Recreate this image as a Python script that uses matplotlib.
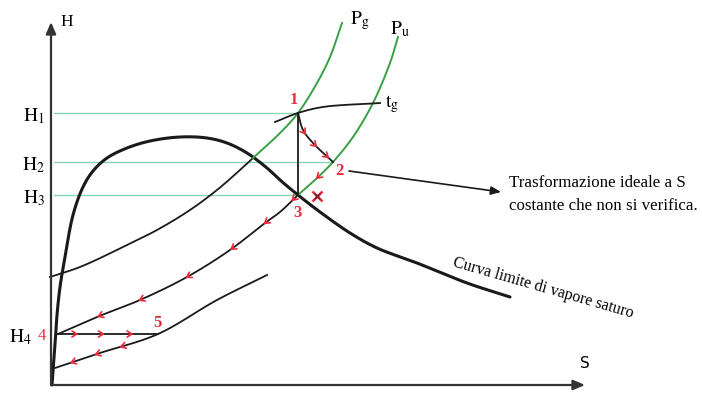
import numpy as np
import matplotlib
matplotlib.use("Agg")
import matplotlib.pyplot as plt

plt.rcParams["mathtext.fontset"] = "stix"
plt.rcParams["font.family"] = ["Liberation Serif", "DejaVu Serif"]

# ---- curve data (entropy S, enthalpy H), arbitrary units ----
dome_S = [1, 4, 6, 9, 14, 22, 32, 42, 56, 76, 99, 129, 156, 176, 196, 216, 229, 247, 269, 299, 326, 366, 416, 459]
dome_H = [0, 40, 70, 98, 128, 170, 198, 214, 227, 237, 244, 248, 247, 242, 232, 217, 205, 190, 173, 152, 137, 122, 102, 88]

pg_S = [-1, 29, 72, 106, 139, 166, 189, 202, 229, 247, 266, 279, 291]
pg_H = [108, 118, 138, 155, 175, 195, 215, 227, 252, 272, 302, 328, 362]
pg_green_from = 7          # index where the isobar leaves the wet region

pu_S = [7, 46, 89, 136, 179, 214, 229, 247, 264, 282, 302, 322, 339, 347]
pu_H = [51, 68, 85, 108, 135, 162, 173, 190, 205, 223, 248, 282, 322, 348]
pu_green_from = 7          # index of point 3

low_S = [4, 49, 107, 166, 216]
low_H = [17, 32, 51, 85, 110]

tg_S = [224, 247, 272, 329]
tg_H = [263, 272, 278, 282]

exp_S = [247, 252, 262, 282]       # real expansion 1 -> 2
exp_H = [272, 255, 242, 223]

H_levels = {"H_1": 272, "H_2": 223, "H_3": 190, "H_4": 51}
H_line_end = {"H_1": 247, "H_2": 282, "H_3": 247}

# flow-direction markers: S positions along each path
arr_exp = [254, 265, 277]
arr_pu = [266, 242, 214, 181, 136, 89, 47]
arr_h4 = [26, 51, 81]
arr_low = [71, 46, 21]

RED = "#ec2a3c"
GREEN = "#37a043"
LGREEN = "#86d6b4"
BLACK = "#1a1a1a"


def smooth(xs, ys, n=24):
    """Centripetal Catmull-Rom spline through the given points."""
    p = np.column_stack([xs, ys]).astype(float)
    p = np.vstack([2 * p[0] - p[1], p, 2 * p[-1] - p[-2]])
    out = []
    for i in range(1, len(p) - 2):
        p0, p1, p2, p3 = p[i - 1], p[i], p[i + 1], p[i + 2]
        t0 = 0.0
        t1 = t0 + np.hypot(*(p1 - p0)) ** 0.5
        t2 = t1 + np.hypot(*(p2 - p1)) ** 0.5
        t3 = t2 + np.hypot(*(p3 - p2)) ** 0.5
        t = np.linspace(t1, t2, n, endpoint=False)[:, None]
        a1 = (t1 - t) / (t1 - t0) * p0 + (t - t0) / (t1 - t0) * p1
        a2 = (t2 - t) / (t2 - t1) * p1 + (t - t1) / (t2 - t1) * p2
        a3 = (t3 - t) / (t3 - t2) * p2 + (t - t2) / (t3 - t2) * p3
        b1 = (t2 - t) / (t2 - t0) * a1 + (t - t0) / (t2 - t0) * a2
        b2 = (t3 - t) / (t3 - t1) * a2 + (t - t1) / (t3 - t1) * a3
        out.append((t2 - t) / (t2 - t1) * b1 + (t - t1) / (t2 - t1) * b2)
    out.append(p[-2][None, :])
    c = np.vstack(out)
    return c[:, 0], c[:, 1]


fig = plt.figure(figsize=(7.02, 3.96), dpi=100)
ax = fig.add_axes([0, 0, 1, 1])
ax.set_xlim(-51, 651)
ax.set_ylim(-11, 385)
ax.axis("off")

# axes with arrows
ax.annotate("", xy=(0, 363), xytext=(0, 0),
            arrowprops=dict(arrowstyle="-|>,head_length=0.7,head_width=0.3", color="#333333", lw=1.6,
                            shrinkA=0, shrinkB=0))
ax.annotate("", xy=(534, 0), xytext=(0, 0),
            arrowprops=dict(arrowstyle="-|>,head_length=0.7,head_width=0.3", color="#333333", lw=1.6,
                            shrinkA=0, shrinkB=0))
ax.text(9, 363, "H", fontsize=12.5, ha="left", va="center")
ax.text(534, 14, "S", fontsize=11, ha="center", va="bottom", family=["DejaVu Sans"])

# enthalpy levels
for name, h in H_levels.items():
    xr = -19 if name == "H_4" else -6
    ax.text(xr, h - 3, r"$\mathrm{%s}$" % name, fontsize=14, ha="right", va="center")
    if name in H_line_end:
        ax.plot([3, H_line_end[name]], [h, h], color=LGREEN, lw=1.0)
ax.text(-9, 49, "4", color=RED, fontsize=12, ha="center", va="center")

# saturation limit curve
x, y = smooth(dome_S, dome_H)
ax.plot(x, y, color=BLACK, lw=2.2, solid_capstyle="round")

# isobar Pg
x, y = smooth(pg_S[:pg_green_from + 1], pg_H[:pg_green_from + 1])
ax.plot(x, y, color=BLACK, lw=1.3)
x, y = smooth(pg_S[pg_green_from:], pg_H[pg_green_from:])
ax.plot(x, y, color=GREEN, lw=1.4)

# isobar Pu
x, y = smooth(pu_S[:pu_green_from + 1], pu_H[:pu_green_from + 1])
ax.plot(x, y, color=BLACK, lw=1.3)
x, y = smooth(pu_S[pu_green_from:], pu_H[pu_green_from:])
ax.plot(x, y, color=GREEN, lw=1.4)
pu_all_x, pu_all_y = smooth(pu_S, pu_H)

# lower isobar
lowx, lowy = smooth(low_S, low_H)
ax.plot(lowx, lowy, color=BLACK, lw=1.3)

# isotherm tg
x, y = smooth(tg_S, tg_H)
ax.plot(x, y, color=BLACK, lw=1.3)

# expansion 1 -> 2 and isentropic 1 -> 3
ex, ey = smooth(exp_S, exp_H)
ax.plot(ex, ey, color=BLACK, lw=1.3)
ax.plot([exp_S[0], exp_S[0]], [H_levels["H_1"], H_levels["H_3"]], color=BLACK, lw=1.3)

# evaporation 4 -> 5
ax.plot([pu_S[0], low_S[2]], [H_levels["H_4"], H_levels["H_4"]], color=BLACK, lw=1.3)


def chevrons(cx, cy, positions, direction):
    for s in positions:
        i = int(np.argmin(np.abs(np.asarray(cx) - s)))
        j = min(max(i + direction, 0), len(cx) - 1)
        p = np.array([cx[i], cy[i]])
        q = np.array([cx[j], cy[j]])
        d = q - p
        d = d / np.hypot(*d)
        ax.annotate("", xy=p + 2 * d, xytext=p - 2 * d,
                    arrowprops=dict(arrowstyle="->,head_length=0.35,head_width=0.22",
                                    color=RED, lw=1.2, shrinkA=0, shrinkB=0))


chevrons(ex, ey, arr_exp, +1)
chevrons(pu_all_x, pu_all_y, arr_pu, -1)
chevrons(np.linspace(pu_S[0], low_S[2], 50), np.full(50, H_levels["H_4"]), arr_h4, +1)
chevrons(lowx, lowy, arr_low, -1)

# point labels
ax.text(243, 285, "1", color=RED, fontsize=12, ha="center", va="center", fontweight="bold")
ax.text(288, 214, "2", color=RED, fontsize=12, ha="center", va="center", fontweight="bold")
ax.text(247, 172, "3", color=RED, fontsize=12, ha="center", va="center", fontweight="bold")
ax.text(106, 62, "5", color=RED, fontsize=12, ha="center", va="center", fontweight="bold")
# unreachable isentropic end state
ax.plot([266], [189], marker="x", color=RED, markersize=7, mew=1.8)
ax.plot([266], [189], marker="x", color=BLACK, markersize=5, mew=0.8, alpha=0.7)

# curve labels
ax.text(299, 364, r"$\mathrm{P_g}$", fontsize=14, ha="left", va="center")
ax.text(339, 356, r"$\mathrm{P_u}$", fontsize=14, ha="left", va="center")
ax.text(334, 281, r"$\mathrm{t_g}$", fontsize=14, ha="left", va="center")

# annotation of the isentropic case
ax.annotate("", xy=(450, 193), xytext=(298, 214),
            arrowprops=dict(arrowstyle="-|>,head_length=0.6,head_width=0.25", color=BLACK, lw=1.2,
                            shrinkA=0, shrinkB=0))
ax.text(458, 202, "Trasformazione ideale a S", fontsize=12.2, ha="left", va="center")
ax.text(458, 179, "costante che non si verifica.", fontsize=12.2, ha="left", va="center")

ax.text(492, 97, "Curva limite di vapore saturo", fontsize=11.5, ha="center", va="center",
        rotation=-16, rotation_mode="anchor")

fig.savefig("out.png", dpi=100)
